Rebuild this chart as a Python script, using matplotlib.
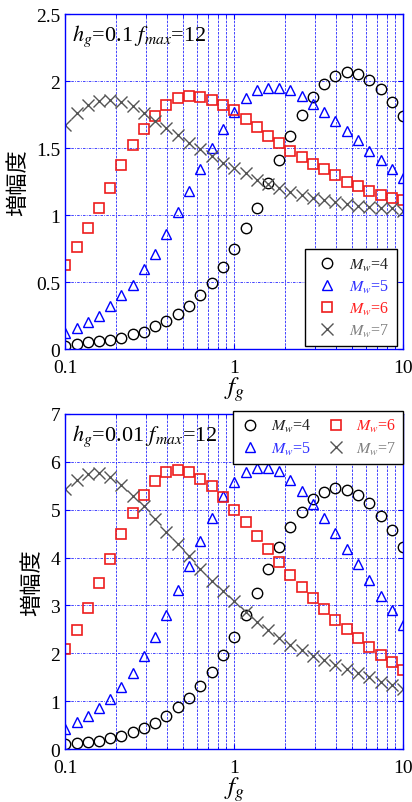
import matplotlib
matplotlib.use('Agg')
import matplotlib.pyplot as plt
from matplotlib.ticker import FuncFormatter, LogLocator, NullFormatter

plt.rcParams['font.family'] = ['Liberation Serif', 'DejaVu Serif']
plt.rcParams['mathtext.fontset'] = 'stix'

# frequency points (f_g), shared by all series
fg = [0.1, 0.117, 0.136, 0.158, 0.185, 0.215, 0.251, 0.293, 0.341, 0.398,
      0.464, 0.541, 0.631, 0.736, 0.858, 1.0, 1.17, 1.36, 1.58, 1.85,
      2.15, 2.51, 2.93, 3.41, 3.98, 4.64, 5.41, 6.31, 7.36, 8.58, 10.0]

# h_g = 0.1
top_m4 = [0.02, 0.04, 0.05, 0.06, 0.07, 0.08, 0.11, 0.13, 0.17, 0.21,
          0.26, 0.32, 0.40, 0.49, 0.61, 0.75, 0.90, 1.05, 1.24, 1.41,
          1.59, 1.75, 1.88, 1.98, 2.04, 2.07, 2.05, 2.01, 1.94, 1.84, 1.74]
top_m5 = [0.12, 0.16, 0.20, 0.25, 0.32, 0.40, 0.48, 0.60, 0.71, 0.86,
          1.02, 1.18, 1.34, 1.50, 1.64, 1.77, 1.87, 1.93, 1.95, 1.95,
          1.93, 1.89, 1.83, 1.77, 1.70, 1.63, 1.56, 1.48, 1.41, 1.34, 1.28]
top_m6 = [0.63, 0.76, 0.90, 1.05, 1.20, 1.37, 1.52, 1.64, 1.74, 1.82,
          1.87, 1.89, 1.88, 1.86, 1.82, 1.78, 1.72, 1.66, 1.59, 1.54,
          1.48, 1.43, 1.38, 1.34, 1.30, 1.25, 1.22, 1.18, 1.15, 1.13, 1.11]
top_m7 = [1.67, 1.76, 1.82, 1.85, 1.86, 1.84, 1.81, 1.76, 1.70, 1.65,
          1.60, 1.54, 1.49, 1.44, 1.39, 1.35, 1.31, 1.26, 1.23, 1.20,
          1.17, 1.15, 1.13, 1.11, 1.10, 1.08, 1.07, 1.06, 1.05, 1.05, 1.03]

# h_g = 0.01
bot_m4 = [0.10, 0.12, 0.14, 0.17, 0.23, 0.28, 0.35, 0.44, 0.55, 0.70,
          0.87, 1.07, 1.32, 1.60, 1.96, 2.35, 2.80, 3.26, 3.76, 4.23,
          4.63, 4.96, 5.22, 5.38, 5.45, 5.42, 5.31, 5.13, 4.87, 4.58, 4.23]
bot_m5 = [0.42, 0.56, 0.68, 0.85, 1.04, 1.29, 1.58, 1.94, 2.34, 2.80,
          3.32, 3.83, 4.35, 4.83, 5.28, 5.58, 5.78, 5.87, 5.87, 5.80,
          5.63, 5.40, 5.12, 4.82, 4.51, 4.18, 3.86, 3.54, 3.19, 2.90, 2.59]
bot_m6 = [2.08, 2.49, 2.95, 3.46, 3.97, 4.49, 4.93, 5.31, 5.61, 5.78,
          5.83, 5.79, 5.65, 5.49, 5.26, 5.00, 4.74, 4.46, 4.18, 3.91,
          3.64, 3.39, 3.15, 2.93, 2.70, 2.51, 2.31, 2.13, 1.96, 1.81, 1.66]
bot_m7 = [5.43, 5.63, 5.75, 5.77, 5.68, 5.52, 5.29, 5.08, 4.81, 4.54,
          4.28, 4.04, 3.76, 3.52, 3.31, 3.10, 2.86, 2.66, 2.48, 2.32,
          2.18, 2.06, 1.95, 1.85, 1.76, 1.67, 1.58, 1.50, 1.41, 1.33, 1.25]

labels = [r'$M_w$=4', r'$M_w$=5', r'$M_w$=6', r'$M_w$=7']
text_colors = ['#222222', '#3030ff', '#ff2020', '#808080']
blue = '#0000ff'

fig = plt.figure(figsize=(4.12, 8.03), dpi=100)
ax1 = fig.add_axes([0.1578, 0.5641, 0.8204, 0.4172])
ax2 = fig.add_axes([0.1578, 0.0660, 0.8204, 0.4172])


def draw(ax, m4, m5, m6, m7):
    ax.plot(fg, m4, ls='none', marker='o', ms=7.5, mfc='none', mec='black', mew=1.0)
    ax.plot(fg, m5, ls='none', marker='^', ms=7.5, mfc='none', mec=blue, mew=1.0)
    ax.plot(fg, m6, ls='none', marker='s', ms=7.8, mfc='none', mec='#ee1c1c', mew=1.2)
    ax.plot(fg, m7, ls='none', marker='x', ms=8, mec='#555555', mew=1.0)
    ax.set_xscale('log')
    ax.set_xlim(0.1, 10)
    ax.xaxis.set_minor_locator(LogLocator(base=10, subs=range(2, 10)))
    ax.xaxis.set_minor_formatter(NullFormatter())
    ax.set_xticks([0.1, 1, 10], ['0.1', '1', '10'])
    ax.yaxis.set_major_formatter(FuncFormatter(lambda v, p: '{:g}'.format(v)))
    ax.grid(True, which='both', axis='x', color=blue, ls=(0, (3, 1.5)), lw=0.6, alpha=0.85)
    ax.grid(True, which='major', axis='y', color=blue, ls=(0, (3, 1.5, 1, 1.5)), lw=0.6, alpha=0.85)
    ax.set_axisbelow(True)
    for s in ax.spines.values():
        s.set_color(blue)
        s.set_linewidth(1.0)
    ax.tick_params(which='both', direction='in', color=blue, labelsize=14,
                   top=True, right=True)
    ax.tick_params(axis='x', pad=7)
    ax.set_xlabel(r'$f_g$', fontsize=18, labelpad=-1)
    ax.set_ylabel('増幅度', family=['Noto Sans CJK JP', 'DejaVu Sans'],
                  fontsize=16, labelpad=5)


draw(ax1, top_m4, top_m5, top_m6, top_m7)
ax1.set_ylim(0, 2.5)
ax1.set_yticks([0, 0.5, 1, 1.5, 2, 2.5])
ax1.text(0.02, 0.975, r'$h_g$=0.1 $f_{max}$=12', transform=ax1.transAxes,
         fontsize=16, va='top', ha='left')
leg1 = ax1.legend(labels, loc='lower right', bbox_to_anchor=(0.982, 0.009),
                  fancybox=False, edgecolor='black', framealpha=1, fontsize=11.5,
                  handlelength=1.8, handletextpad=0.5, borderpad=0.45,
                  labelspacing=0.3, borderaxespad=0)
leg1.get_frame().set_linewidth(1.0)
for t, c in zip(leg1.get_texts(), text_colors):
    t.set_color(c)

draw(ax2, bot_m4, bot_m5, bot_m6, bot_m7)
ax2.set_ylim(0, 7)
ax2.set_yticks(range(0, 8))
ax2.text(0.02, 0.975, r'$h_g$=0.01 $f_{max}$=12', transform=ax2.transAxes,
         fontsize=16, va='top', ha='left')
leg2 = ax2.legend(labels, loc='upper right', bbox_to_anchor=(1.0, 1.009), ncol=2,
                  fancybox=False, edgecolor='black', framealpha=1, fontsize=11.5,
                  handlelength=1.4, handletextpad=0.6, borderpad=0.4,
                  labelspacing=0.35, columnspacing=0.8, borderaxespad=0)
leg2.get_frame().set_linewidth(1.0)
for t, c in zip(leg2.get_texts(), text_colors):
    t.set_color(c)

fig.savefig('out.png', dpi=100)
